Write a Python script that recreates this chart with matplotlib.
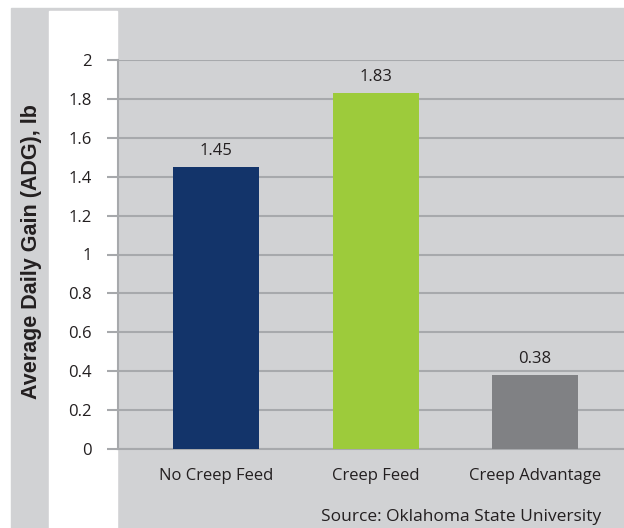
import matplotlib.pyplot as plt
from matplotlib.patches import Rectangle

categories = ['No Creep Feed', 'Creep Feed', 'Creep Advantage']
adg = [1.45, 1.83, 0.38]
colors = ['#13346a', '#9dcb3b', '#808184']
yticks = [0, 0.2, 0.4, 0.6, 0.8, 1, 1.2, 1.4, 1.6, 1.8, 2]

bg = '#d1d2d4'
grid = '#a7a9ac'
font = 'Open Sans'

fig = plt.figure(figsize=(6.24, 5.28), dpi=100, facecolor='white')

# gray panel and white strip behind the tick labels
fig.patches.append(Rectangle((11/624, 0), 1, 520/528, transform=fig.transFigure,
                             color=bg, zorder=-2))
fig.patches.append(Rectangle((49/624, 0), 68/624, 517/528, transform=fig.transFigure,
                             color='white', zorder=-1))

ax = fig.add_axes([118/624, 79/528, 506/624, 389/528])
ax.set_facecolor(bg)

x = range(len(categories))
ax.bar(x, adg, width=0.54, color=colors, zorder=3)
for i, v in enumerate(adg):
    ax.text(i, v + 0.04, f'{v:.2f}', ha='center', va='bottom', fontsize=12,
            family=font, color='#231f20')

ax.set_xlim(-0.617, 2.56)
ax.set_ylim(0, 2)
ax.set_yticks(yticks)
ax.set_yticklabels([f'{t:g}' for t in yticks], family=font, fontsize=12, color='#231f20')
ax.set_xticks(list(x))
ax.set_xticklabels(categories, family=font, fontsize=12, color='#231f20')
ax.tick_params(axis='x', length=0, pad=14)
ax.tick_params(axis='y', length=8, color=grid, width=1.5, pad=11)
ax.grid(axis='y', color=grid, linewidth=1.5, zorder=1)
ax.set_axisbelow(True)

for s in ['top', 'right']:
    ax.spines[s].set_visible(False)
ax.spines['left'].set_color(grid)
ax.spines['left'].set_linewidth(1.5)
ax.spines['bottom'].set_color(grid)
ax.spines['bottom'].set_linewidth(1.5)

fig.text(32/624, 1 - 252/528, 'Average Daily Gain (ADG), lb', rotation=90,
         ha='center', va='center', fontsize=15.5, fontweight='bold',
         family='Liberation Sans', color='#231f20')
fig.text(601/624, 1 - 517/528, 'Source: Oklahoma State University', ha='right',
         va='center', fontsize=12.5, family=font, color='#231f20')

fig.savefig('out.png', dpi=100, facecolor=fig.get_facecolor())
